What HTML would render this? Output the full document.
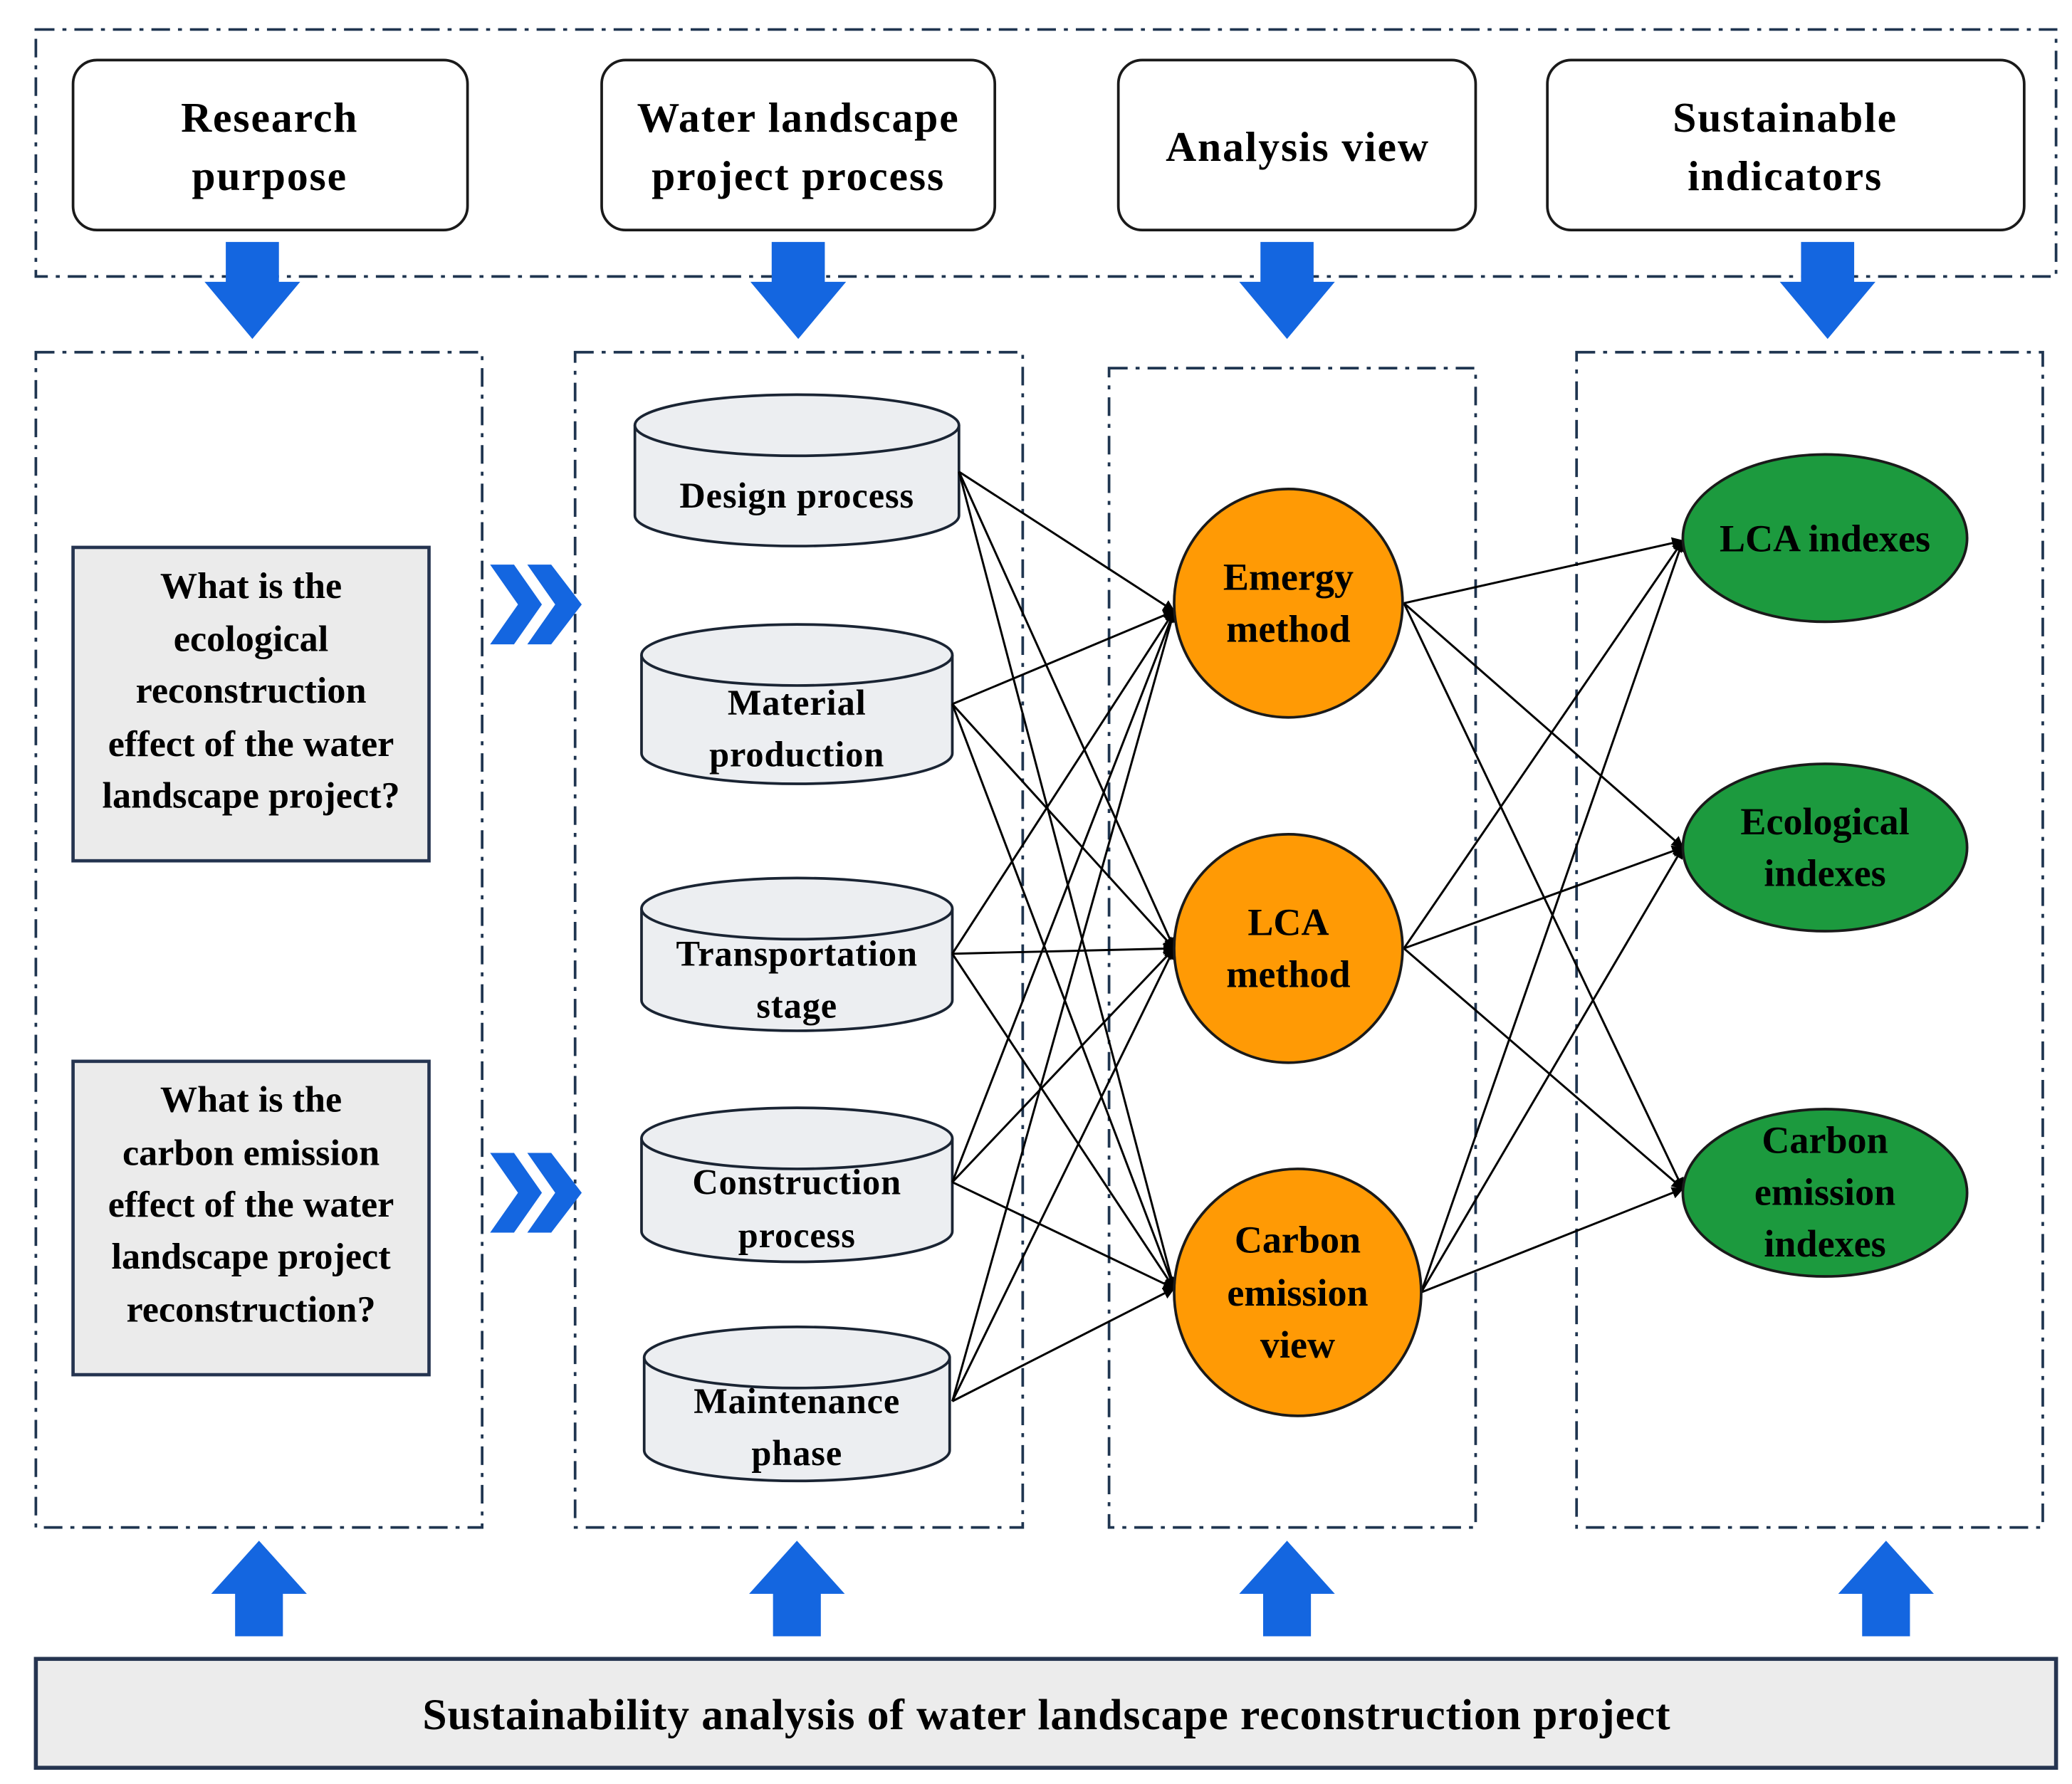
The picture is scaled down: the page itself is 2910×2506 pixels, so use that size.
<!DOCTYPE html>
<html><head><meta charset="utf-8"><style>html,body{margin:0;padding:0;background:#fff}svg{display:block}</style></head><body>
<svg width="2910" height="2506" viewBox="0 0 1560 1343" xmlns="http://www.w3.org/2000/svg" font-family="'Liberation Serif', serif" font-weight="bold">
<defs>
<marker id="a" viewBox="0 0 10 10" refX="9" refY="5" markerWidth="9" markerHeight="9" orient="auto" markerUnits="userSpaceOnUse"><path d="M0,0 L10,5 L0,10 z" fill="#000"/></marker>
</defs>
<rect width="1560" height="1343" fill="#fff"/>
<g fill="none" stroke="#1f3550" stroke-width="2" stroke-dasharray="14,6,3,6">
<rect x="27" y="22" width="1521" height="186"/>
<rect x="27" y="265" width="336" height="885"/>
<rect x="433" y="265" width="337" height="885"/>
<rect x="835" y="277" width="276" height="873"/>
<rect x="1187" y="265" width="351" height="885"/>
</g>
<g fill="#fff" stroke="#1a1a1a" stroke-width="2">
<rect x="55" y="45" width="297" height="128" rx="18"/>
<rect x="453" y="45" width="296" height="128" rx="18"/>
<rect x="842" y="45" width="269" height="128" rx="18"/>
<rect x="1165" y="45" width="359" height="128" rx="18"/>
</g>
<g font-size="32" text-anchor="middle" fill="#000" letter-spacing="1">
<text x="203" y="99">Research</text><text x="203" y="143">purpose</text>
<text x="601" y="99">Water landscape</text><text x="601" y="143">project process</text>
<text x="977" y="121">Analysis view</text>
<text x="1344" y="99">Sustainable</text><text x="1344" y="143">indicators</text>
</g>
<g fill="#1466e0">
<path d="M170,182h40v30h16l-36,43l-36,-43h16z"/>
<path d="M581,182h40v30h16l-36,43l-36,-43h16z"/>
<path d="M949,182h40v30h16l-36,43l-36,-43h16z"/>
<path d="M1356,182h40v30h16l-36,43l-36,-43h16z"/>
<path d="M177,1232h36v-32h18l-36,-40l-36,40h18z"/>
<path d="M582,1232h36v-32h18l-36,-40l-36,40h18z"/>
<path d="M951,1232h36v-32h18l-36,-40l-36,40h18z"/>
<path d="M1402,1232h36v-32h18l-36,-40l-36,40h18z"/>
<path d="M369,425h18l21,30l-21,30h-18l21,-30z"/>
<path d="M397,425h18l23,30l-23,30h-18l21,-30z"/>
<path d="M369,868h18l21,30l-21,30h-18l21,-30z"/>
<path d="M397,868h18l23,30l-23,30h-18l21,-30z"/>
</g>
<g fill="#ebebeb" stroke="#253450" stroke-width="2.5">
<rect x="55" y="412" width="268" height="236"/>
<rect x="55" y="799" width="268" height="236"/>
</g>
<g font-size="28" text-anchor="middle" fill="#000">
<text x="189" y="450">What is the</text><text x="189" y="490">ecological</text><text x="189" y="529">reconstruction</text><text x="189" y="569">effect of the water</text><text x="189" y="608">landscape project?</text>
<text x="189" y="837">What is the</text><text x="189" y="877">carbon emission</text><text x="189" y="916">effect of the water</text><text x="189" y="955">landscape project</text><text x="189" y="995">reconstruction?</text>
</g>
<g fill="#eceef1" stroke="#1a2433" stroke-width="2">
<path d="M478,320v68a122,23 0 0 0 244,0v-68"/><ellipse cx="600" cy="320" rx="122" ry="23"/>
<path d="M483,493v74a117,23 0 0 0 234,0v-74"/><ellipse cx="600" cy="493" rx="117" ry="23"/>
<path d="M483,684v69a117,23 0 0 0 234,0v-69"/><ellipse cx="600" cy="684" rx="117" ry="23"/>
<path d="M483,857v70a117,23 0 0 0 234,0v-70"/><ellipse cx="600" cy="857" rx="117" ry="23"/>
<path d="M485,1022v70a115,23 0 0 0 230,0v-70"/><ellipse cx="600" cy="1022" rx="115" ry="23"/>
</g>
<g font-size="27" text-anchor="middle" fill="#000" letter-spacing="0.5">
<text x="600" y="382">Design process</text>
<text x="600" y="538">Material</text><text x="600" y="577">production</text>
<text x="600" y="727">Transportation</text><text x="600" y="766">stage</text>
<text x="600" y="899">Construction</text><text x="600" y="939">process</text>
<text x="600" y="1064">Maintenance</text><text x="600" y="1103">phase</text>
</g>
<g stroke="#000" stroke-width="1.6" marker-end="url(#a)">
<line x1="722" y1="355" x2="884" y2="460"/><line x1="722" y1="355" x2="884" y2="714"/><line x1="722" y1="355" x2="884" y2="970"/>
<line x1="717" y1="530" x2="884" y2="460"/><line x1="717" y1="530" x2="884" y2="714"/><line x1="717" y1="530" x2="884" y2="970"/>
<line x1="717" y1="718" x2="884" y2="460"/><line x1="717" y1="718" x2="884" y2="714"/><line x1="717" y1="718" x2="884" y2="970"/>
<line x1="717" y1="890" x2="884" y2="460"/><line x1="717" y1="890" x2="884" y2="714"/><line x1="717" y1="890" x2="884" y2="970"/>
<line x1="717" y1="1055" x2="884" y2="460"/><line x1="717" y1="1055" x2="884" y2="714"/><line x1="717" y1="1055" x2="884" y2="970"/>
<line x1="1057" y1="454" x2="1267" y2="407"/><line x1="1057" y1="454" x2="1267" y2="638"/><line x1="1057" y1="454" x2="1267" y2="895"/>
<line x1="1057" y1="714" x2="1267" y2="407"/><line x1="1057" y1="714" x2="1267" y2="638"/><line x1="1057" y1="714" x2="1267" y2="895"/>
<line x1="1070" y1="973" x2="1267" y2="407"/><line x1="1070" y1="973" x2="1267" y2="638"/><line x1="1070" y1="973" x2="1267" y2="895"/>
</g>
<g fill="#ff9a05" stroke="#1a1a1a" stroke-width="2">
<circle cx="970" cy="454" r="86"/>
<circle cx="970" cy="714" r="86"/>
<circle cx="977" cy="973" r="93"/>
</g>
<g fill="#1c9a3e" stroke="#1a1a1a" stroke-width="2">
<ellipse cx="1374" cy="405" rx="107" ry="63"/>
<ellipse cx="1374" cy="638" rx="107" ry="63"/>
<ellipse cx="1374" cy="898" rx="107" ry="63"/>
</g>
<g font-size="29" text-anchor="middle" fill="#000">
<text x="970" y="444">Emergy</text><text x="970" y="483">method</text>
<text x="970" y="704">LCA</text><text x="970" y="743">method</text>
<text x="977" y="943">Carbon</text><text x="977" y="983">emission</text><text x="977" y="1022">view</text>
<text x="1374" y="415">LCA indexes</text>
<text x="1374" y="628">Ecological</text><text x="1374" y="667">indexes</text>
<text x="1374" y="868">Carbon</text><text x="1374" y="907">emission</text><text x="1374" y="946">indexes</text>
</g>
<rect x="27" y="1249" width="1521" height="82" fill="#ececec" stroke="#253450" stroke-width="3"/>
<text x="788" y="1302" font-size="33" text-anchor="middle" fill="#000" letter-spacing="0.5">Sustainability analysis of water landscape reconstruction project</text>
</svg>
</body></html>
